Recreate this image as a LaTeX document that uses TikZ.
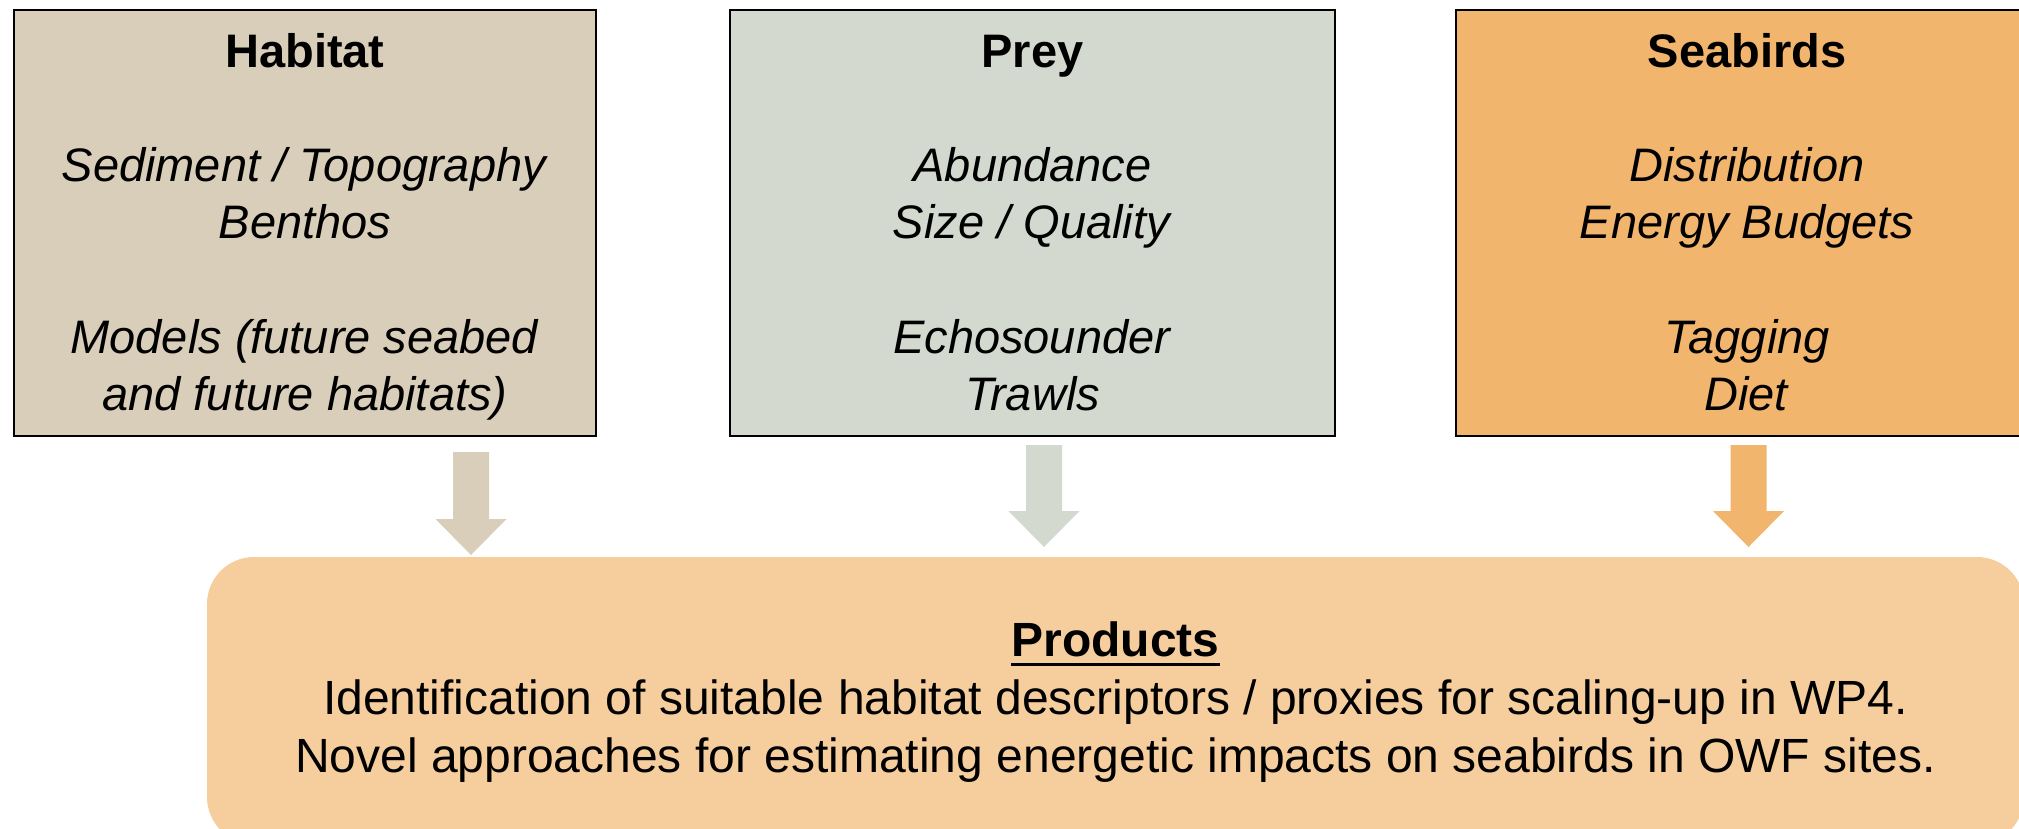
\documentclass[tikz,border=0pt]{standalone}
\usepackage{fontspec}
\setmainfont{Liberation Sans}
\usetikzlibrary{calc}
\definecolor{habc}{HTML}{D9CEB9}
\definecolor{preyc}{HTML}{D3D9CF}
\definecolor{seac}{HTML}{F2B56E}
\definecolor{prodc}{HTML}{F6CE9E}
\newcommand\myul[1]{\setbox0\hbox{#1}\rlap{\rule[-10pt]{\wd0}{3.5pt}}\box0}
\newcommand\blkarrow[3]{%
  \fill[#3] ($(#1)+(-18,0)$) -- ($(#1)+(18,0)$) -- ($(#2)+(18,-36)$) -- ($(#2)+(35.5,-36)$)
    -- (#2) -- ($(#2)+(-35.5,-36)$) -- ($(#2)+(-18,-36)$) -- cycle;}
\begin{document}
\begin{tikzpicture}[x=1pt,y=-1pt,
  topbox/.style={draw=black, line width=2.5pt, inner sep=0pt, outer sep=0pt, align=center,
    font=\fontsize{47}{57.2}\selectfont, minimum height=426pt},
  prodbox/.style={fill=prodc, rounded corners=47pt, inner sep=0pt, outer sep=0pt, align=center,
    font=\fontsize{48}{58}\selectfont, minimum width=1817pt, minimum height=287pt}]
\useasboundingbox (0,0) rectangle (2019,828);
\clip (0,0) rectangle (2019,828);

\node[topbox, fill=habc, minimum width=582pt] (hab) at (305,223)
  {\rule{0pt}{49pt}\textbf{Habitat}\\[57.2pt]
   \textit{Sediment / Topography}\\
   \textit{Benthos}\\[57.2pt]
   \textit{Models (future seabed}\\
   \textit{and future habitats)}\strut};

\node[topbox, fill=preyc, minimum width=605pt] (prey) at (1032.5,223)
  {\rule{0pt}{49pt}\textbf{Prey}\\[57.2pt]
   \textit{Abundance}\\
   \textit{Size / Quality}\\[57.2pt]
   \textit{Echosounder}\\
   \textit{Trawls}\strut};

\node[topbox, fill=seac, minimum width=582pt] (sea) at (1747,223)
  {\rule{0pt}{49pt}\textbf{Seabirds}\\[57.2pt]
   \textit{Distribution}\\
   \textit{Energy Budgets}\\[57.2pt]
   \textit{Tagging}\\
   \textit{Diet}\strut};

\node[prodbox] (prod) at (1115.5,700.5)
  {\rule{0pt}{44.6pt}\myul{\textbf{Products}}\\
   Identification of suitable habitat descriptors / proxies for scaling-up in WP4.\\
   Novel approaches for estimating energetic impacts on seabirds in OWF sites.\strut};

\coordinate (a1s) at (471,452);
\coordinate (a1e) at (471,555);
\coordinate (a2s) at (1044,445);
\coordinate (a2e) at (1044,547);
\coordinate (a3s) at (1748.5,445);
\coordinate (a3e) at (1748.5,547);
\blkarrow{a1s}{a1e}{habc}
\blkarrow{a2s}{a2e}{preyc}
\blkarrow{a3s}{a3e}{seac}
\end{tikzpicture}
\end{document}
